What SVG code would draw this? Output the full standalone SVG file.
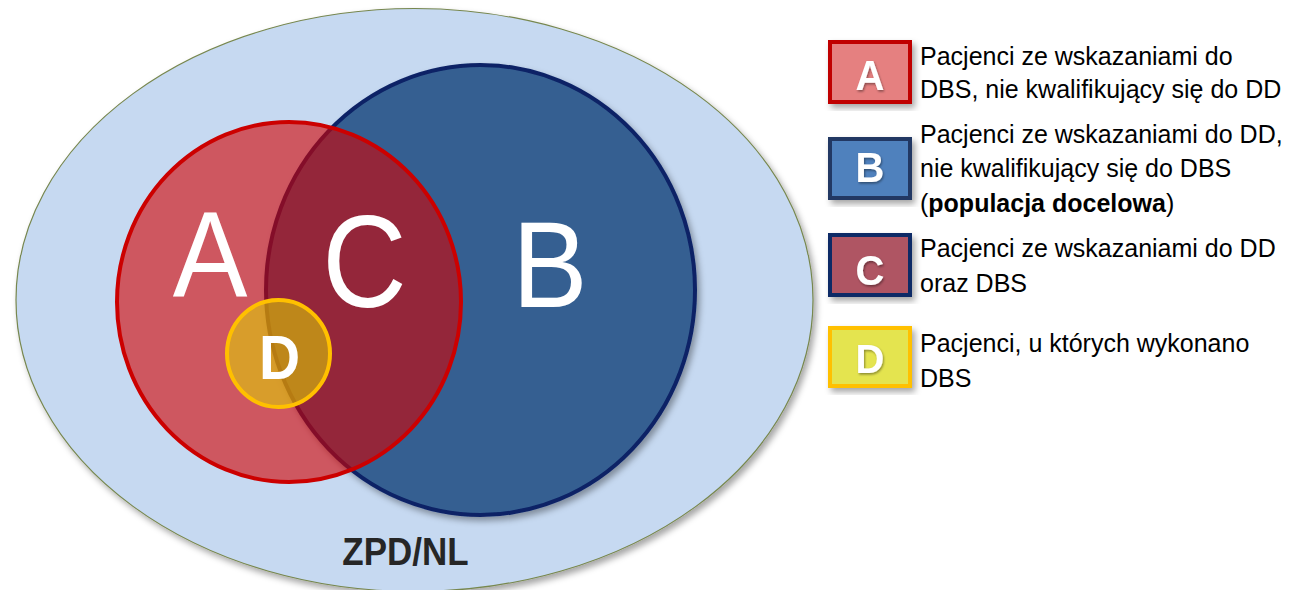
<svg xmlns="http://www.w3.org/2000/svg" width="1293" height="590" viewBox="0 0 1293 590">
  <defs>
    <filter id="shadow" x="-10%" y="-10%" width="125%" height="125%">
      <feDropShadow dx="3" dy="4" stdDeviation="3" flood-color="#000" flood-opacity="0.35"/>
    </filter>
    <filter id="tshadow" x="-20%" y="-20%" width="150%" height="150%">
      <feDropShadow dx="1" dy="1.5" stdDeviation="1" flood-color="#000" flood-opacity="0.4"/>
    </filter>
  </defs>
  <style>
    .big { font-family: "Liberation Sans", Arial, sans-serif; fill: #ffffff; text-anchor: middle; }
    .boxl { font-family: "Liberation Sans", Arial, sans-serif; font-weight: bold; font-size: 40px; fill: #ffffff; text-anchor: middle; }
    .leg { font-family: "Liberation Sans", Arial, sans-serif; font-size: 25px; fill: #000000; }
    .lbox { stroke-width: 4; }
  </style>
  <rect x="0" y="0" width="1293" height="590" fill="#ffffff"/>

  <g id="universe">
    <ellipse cx="414.5" cy="300" rx="398.5" ry="291.5" fill="#c6d9f1" stroke="#77874f" stroke-width="1.2" filter="url(#shadow)"/>
    <text transform="translate(405.5,565) scale(1,1.12)" x="0" y="0" font-family="Liberation Sans, Arial, sans-serif" font-weight="bold" font-size="35" fill="#262626" text-anchor="middle">ZPD/NL</text>
  </g>

  <g id="setB">
    <ellipse cx="480.5" cy="290" rx="214.5" ry="225" fill="#365f91" stroke="#0c2366" stroke-width="4" filter="url(#shadow)"/>
    <text class="big" transform="translate(550,307) scale(1,1.09)" font-size="113">B</text>
  </g>

  <g id="setA">
    <ellipse cx="289" cy="302" rx="172" ry="180" fill="#d40000" fill-opacity="0.6" stroke="#cc0000" stroke-width="4"/>
    <text class="big" transform="translate(210,297) scale(1,1.09)" font-size="112">A</text>
  </g>

  <g id="setC">
    <text class="big" transform="translate(364.5,307) scale(1,1.12)" font-size="117">C</text>
  </g>

  <g id="setD">
    <ellipse cx="278.5" cy="353.5" rx="51.5" ry="53.5" fill="#e0d700" fill-opacity="0.55" stroke="#ffc000" stroke-width="4"/>
    <text transform="translate(279.5,379) scale(1,1.1)" font-family="Liberation Sans, Arial, sans-serif" font-weight="bold" font-size="57" fill="#ffffff" text-anchor="middle">D</text>
  </g>

  <g id="connectors"/>

  <g id="legendA">
    <rect class="lbox" x="830" y="42" width="80" height="60" fill="#e58080" stroke="#c00000" filter="url(#shadow)"/>
    <text class="boxl" transform="translate(870,90) scale(1,1.08)" filter="url(#tshadow)">A</text>
    <text class="leg" x="920" y="65">Pacjenci ze wskazaniami do</text>
    <text class="leg" x="920" y="98">DBS, nie kwalifikujący się do DD</text>
  </g>

  <g id="legendB">
    <rect class="lbox" x="830" y="139" width="80" height="59" fill="#4f81bd" stroke="#203864" filter="url(#shadow)"/>
    <text class="boxl" transform="translate(870,182) scale(1,1.05)" filter="url(#tshadow)">B</text>
    <text class="leg" x="920" y="143">Pacjenci ze wskazaniami do DD,</text>
    <text class="leg" x="920" y="177">nie kwalifikujący się do DBS</text>
    <text class="leg" x="920" y="212">(<tspan font-weight="bold">populacja docelowa</tspan>)</text>
  </g>

  <g id="legendC">
    <rect class="lbox" x="830" y="235" width="80" height="60" fill="#af5564" stroke="#0f2a66" filter="url(#shadow)"/>
    <text class="boxl" transform="translate(870,285) scale(1,1.08)" filter="url(#tshadow)">C</text>
    <text class="leg" x="920" y="257">Pacjenci ze wskazaniami do DD</text>
    <text class="leg" x="920" y="292">oraz DBS</text>
  </g>

  <g id="legendD">
    <rect class="lbox" x="830" y="328" width="80" height="58" fill="#e4e450" stroke="#ffc000" filter="url(#shadow)"/>
    <text class="boxl" transform="translate(870,373) scale(1,1.02)" filter="url(#tshadow)">D</text>
    <text class="leg" x="920" y="352">Pacjenci, u których wykonano</text>
    <text class="leg" x="920" y="387">DBS</text>
  </g>
</svg>
